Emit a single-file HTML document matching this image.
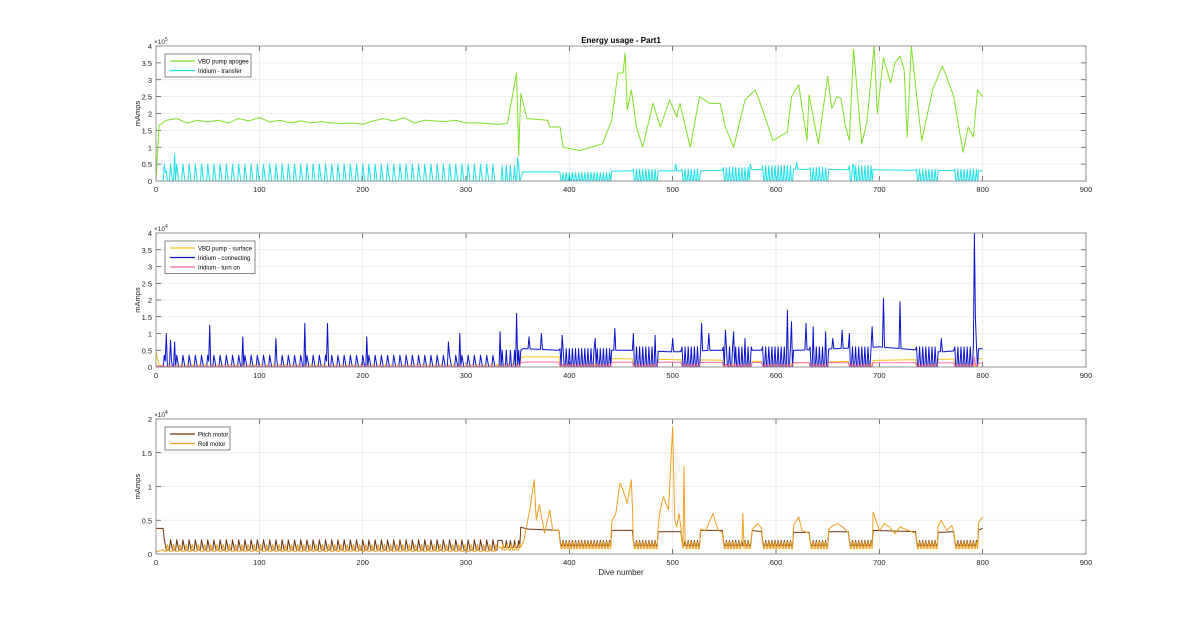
<!DOCTYPE html>
<html><head><meta charset="utf-8">
<style>
html,body{margin:0;padding:0;background:#fff;}
svg{display:block;font-family:"Liberation Sans",sans-serif;}
</style></head>
<body>
<svg id="chart" width="1200" height="622" viewBox="0 0 1200 622" xmlns="http://www.w3.org/2000/svg">
<rect width="1200" height="622" fill="#fff"/>
<text x="621" y="43" font-size="8" font-weight="bold" text-anchor="middle" fill="#000">Energy usage - Part1</text>
<text x="621" y="575" font-size="8" text-anchor="middle" fill="#262626">Dive number</text>
<g id="panels"></g>
</svg>
<script>
// ---- shared dive-type blocks (oscillating segments) ----
const blockStart = [8, 335, 391, 462, 509, 549, 587, 633, 671, 736, 773];
const blockEnd   = [330, 352, 440, 485, 526, 576, 616, 650, 693, 756, 795];
const blockPeriod= [6, 4, 3, 3, 3, 3, 3, 3, 3, 3, 3];
const xTicks = [0,100,200,300,400,500,600,700,800,900];

// ---- top: VBD pump apogee (x1e5) ----
const greenD = [0,3,10,20,30,40,50,60,70,80,90,100,110,120,130,140,150,160,170,180,190,200,210,220,230,240,250,260,270,280,290,300,313,330,340,349,351,353,359,379,381,391,394,410,432,441,447,452,454,456,460,465,471,481,488,497,504,507,517,526,536,546,551,559,570,580,586,597,611,615,622,630,632,641,650,654,659,663,667,671,675,683,688,695,698,704,711,715,720,724,727,731,734,741,752,761,765,772,781,786,791,795,800];
const greenV = [0,1.65,1.8,1.85,1.72,1.8,1.75,1.8,1.72,1.85,1.78,1.88,1.75,1.8,1.72,1.78,1.72,1.76,1.72,1.7,1.72,1.68,1.78,1.85,1.78,1.88,1.72,1.8,1.78,1.76,1.8,1.72,1.72,1.68,1.7,3.2,0.75,2.6,1.85,1.8,1.6,1.6,1.0,0.9,1.1,1.8,3.2,3.2,3.8,2.1,2.7,1.6,1.0,2.3,1.6,2.4,1.9,2.3,1.0,2.5,2.3,2.3,1.6,1.0,2.4,2.7,2.2,1.2,1.45,2.5,2.85,1.2,2.55,1.1,3.1,2.15,2.5,2.45,1.65,1.2,3.9,1.1,1.75,4.0,2.0,3.65,2.9,3.5,3.7,3.3,1.3,4.0,3.1,1.2,2.75,3.4,3.1,2.5,0.85,1.6,1.3,2.7,2.5];
// ---- top: Iridium transfer ----
const cyanLevelD = [0,352,355,390,460,520,600,700,800];
const cyanLevelV = [0,0,0.27,0.27,0.3,0.3,0.35,0.33,0.3];
const cyanHi = [0.5,0.45,0.25,0.35,0.35,0.4,0.45,0.4,0.45,0.35,0.35];
const cyanLo = [0,0,0,0,0,0,0,0,0,0,0];
const cyanSpikeD = [10,18,350,503,575,620,675];
const cyanSpikeV = [0.3,0.8,0.7,0.5,0.5,0.55,0.5];

// ---- middle (x1e4) ----
const blueLevelD = [0,335,355,390,440,462,500,540,580,620,660,700,760,800];
const blueLevelV = [0,0,0.55,0.5,0.5,0.5,0.45,0.5,0.5,0.5,0.55,0.6,0.45,0.55];
const blueHi = [0.35,0.5,0.55,0.6,0.6,0.6,0.6,0.6,0.6,0.6,0.6];
const blueLo = [0,0,0,0,0,0,0,0,0,0,0];
const blueSpikeD = [10,14,18,52,84,116,144,166,204,283,294,333,349,361,373,393,425,444,462,483,500,528,535,551,559,570,611,615,629,636,648,655,664,671,693,704,720,760,792,793];
const blueSpikeV = [1.0,0.8,0.75,1.25,0.9,0.85,1.3,1.3,0.9,0.75,1.0,1.05,1.6,0.9,1.0,0.95,0.85,1.15,1.0,0.95,0.85,1.3,1.0,1.1,1.05,0.85,1.7,1.35,1.3,1.2,1.05,0.85,1.1,1.0,1.2,2.05,1.95,0.85,4.0,1.5];
const yellowLevelD = [0,3,335,355,390,440,500,560,620,700,800];
const yellowLevelV = [0.45,0.05,0.05,0.3,0.3,0.25,0.22,0.2,0.12,0.2,0.25];
const yellowHi = [0.08,0.1,0.1,0.1,0.1,0.1,0.1,0.1,0.1,0.1,0.1];
const yellowLo = [0.02,0.02,0.02,0.02,0.02,0.02,0.02,0.02,0.02,0.02,0.02];
const pinkLevelD = [0,335,355,800];
const pinkLevelV = [0.03,0.03,0.15,0.12];
const pinkHi = [0.05,0.06,0.08,0.08,0.08,0.08,0.08,0.08,0.08,0.08,0.08];
const pinkLo = [0.01,0.01,0.02,0.02,0.02,0.02,0.02,0.02,0.02,0.02,0.02];
const pinkSpikeD = [792];
const pinkSpikeV = [0.3];

// ---- bottom (x1e4) ----
const pitchLevelD = [0,7,335,345,352,360,390,440,462,485,509,526,549,576,587,616,633,650,671,693,736,756,773,795,800];
const pitchLevelV = [0.38,0.38,0.2,0.28,0.4,0.37,0.35,0.35,0.35,0.33,0.33,0.35,0.35,0.35,0.33,0.32,0.32,0.33,0.33,0.35,0.33,0.32,0.33,0.35,0.38];
const pitchHi = [0.21,0.2,0.2,0.2,0.2,0.2,0.2,0.2,0.2,0.2,0.2];
const pitchLo = [0.06,0.1,0.12,0.12,0.12,0.12,0.12,0.12,0.12,0.12,0.12];
const rollLevelD = [0,10,335,345,350,352,353,356,362,366,368,371,376,381,384,390,440,445,449,452,456,460,462,485,488,491,496,500,502,504,506,508,526,532,539,544,550,576,582,590,600,616,622,625,633,650,655,660,666,671,693,694,700,705,710,715,720,736,756,760,765,770,773,795,800];
const rollLevelV = [0.03,0.08,0.1,0.25,0.05,1.84,0.1,0.2,0.68,1.1,0.5,0.73,0.31,0.65,0.35,0.35,0.45,0.6,1.05,0.95,0.75,1.1,0.3,0.3,0.65,0.85,0.65,1.88,0.5,0.4,0.6,0.4,0.37,0.35,0.6,0.35,0.3,0.35,0.45,0.32,0.38,0.4,0.55,0.35,0.3,0.35,0.42,0.45,0.38,0.3,0.4,0.62,0.35,0.45,0.4,0.3,0.4,0.3,0.4,0.5,0.35,0.42,0.3,0.45,0.55];
const rollHi = [0.14,0.15,0.18,0.18,0.18,0.18,0.18,0.18,0.18,0.18,0.18];
const rollLo = [0.04,0.06,0.08,0.08,0.08,0.08,0.08,0.08,0.08,0.08,0.08];
const rollSpikeD = [511,568];
const rollSpikeV = [1.3,0.6];

const NS = "http://www.w3.org/2000/svg";
const X0 = 156, X1 = 1086;
const xs = d => X0 + d * (X1 - X0) / 900;
function mk(tag, attrs, parent){ const e=document.createElementNS(NS,tag); for(const k in attrs) e.setAttribute(k,attrs[k]); parent.appendChild(e); return e; }
function interp(D,V,d){ if(d<=D[0]) return V[0]; for(let i=1;i<D.length;i++){ if(d<=D[i]){ const t=(d-D[i-1])/(D[i]-D[i-1]||1); return V[i-1]+t*(V[i]-V[i-1]); } } return V[V.length-1]; }
function series(levD, levV, hi, lo, spD, spV, useBlocks, phase){
  const out=[]; const ph = phase||0;
  for(let d=0; d<=800; d++){
    let v = interp(levD, levV, d);
    if(useBlocks){
      for(let b=0;b<blockStart.length;b++){
        if(d>=blockStart[b] && d<=blockEnd[b]){
          const k=(d-blockStart[b]+ph)%blockPeriod[b];
          v = (k===0) ? hi[b] : (k===1 && blockPeriod[b]>4 ? (hi[b]+lo[b])/2 : lo[b]);
        }
      }
    }
    if(spD){ const i=spD.indexOf(d); if(i>=0) v=spV[i]; }
    out.push(v);
  }
  return out;
}
const root = document.getElementById('panels');
function panel(name, top, bot, ymax, exp, lines, legend, legW){
  const g = mk('g',{},root);
  
  
  const ys = v => bot - v*(bot-top)/ymax;
  mk('rect',{x:X0,y:top,width:X1-X0,height:bot-top,fill:'#fff'},g);
  const yTicks=[]; for(let v=0; v<=ymax+1e-9; v+=0.5) yTicks.push(v);
  yTicks.forEach(v=>{
    const gl = mk('line',{x1:X0,x2:X1,y1:ys(v),y2:ys(v),stroke:'#e8e8e8','stroke-width':0.8},g);
    
    
    mk('line',{x1:X0,x2:X0+5,y1:ys(v),y2:ys(v),stroke:'#444','stroke-width':0.7},g);
    mk('line',{x1:X1-5,x2:X1,y1:ys(v),y2:ys(v),stroke:'#444','stroke-width':0.7},g);
    const t = mk('text',{x:X0-4,y:ys(v)+3,'font-size':7.5,'text-anchor':'end',fill:'#262626'},g);
    
    
    t.textContent = String(v);
  });
  xTicks.forEach(d=>{
    const gl = mk('line',{x1:xs(d),x2:xs(d),y1:top,y2:bot,stroke:'#e8e8e8','stroke-width':0.8},g);
    
    
    mk('line',{x1:xs(d),x2:xs(d),y1:bot,y2:bot-5,stroke:'#444','stroke-width':0.7},g);
    mk('line',{x1:xs(d),x2:xs(d),y1:top,y2:top+5,stroke:'#444','stroke-width':0.7},g);
    const t = mk('text',{x:xs(d),y:bot+11,'font-size':7.5,'text-anchor':'middle',fill:'#262626'},g);
    
    
    t.textContent = String(d);
  });
  lines.forEach(L=>{
    const pts = L.vals.map((v,d)=>xs(d).toFixed(1)+','+ys(v).toFixed(1)).join(' ');
    const p = mk('polyline',{points:pts,fill:'none',stroke:L.color,'stroke-width':1,'stroke-linejoin':'round'},g);
    
    
  });
  const box = mk('rect',{x:X0,y:top,width:X1-X0,height:bot-top,fill:'none',stroke:'#8c8c8c','stroke-width':0.9},g);
  
  
  const ex = mk('text',{x:X0-2,y:top-2,'font-size':6.5,fill:'#262626'},g);
  
  
  ex.innerHTML = '\u00d710<tspan dy="-3" font-size="5">'+exp+'</tspan>';
  const yl = mk('text',{x:0,y:0,'font-size':7.5,'text-anchor':'middle',fill:'#262626',transform:'translate(140,'+((top+bot)/2)+') rotate(-90)'},g);
  
  
  yl.textContent='mAmps';
  const lg = mk('g',{},g);
  
  
  const lh = 4 + legend.length*9.5;
  mk('rect',{x:165,y:top+8,width:legW,height:lh,fill:'#fff',stroke:'#555','stroke-width':0.7},lg);
  legend.forEach((e,i)=>{
    const yy = top+8+7+i*9.5;
    const en = mk('g',{},lg);
    
    
    mk('line',{x1:170,x2:195,y1:yy,y2:yy,stroke:e.color,'stroke-width':1.2},en);
    const t = mk('text',{x:198,y:yy+2.5,'font-size':6,fill:'#000'},en);
    t.textContent = e.label;
  });
}
const gVals = series(greenD, greenV, null, null, null, null, false);
const cVals = series(cyanLevelD, cyanLevelV, cyanHi, cyanLo, cyanSpikeD, cyanSpikeV, true);
panel('panel-apogee', 46, 181, 4, 5, [
  {name:'vbd-pump-apogee-line', color:'#7fe02a', vals:gVals},
  {name:'iridium-transfer-line', color:'#1fe0e8', vals:cVals}
], [{label:'VBD pump apogee',color:'#7fe02a'},{label:'Iridium - transfer',color:'#1fe0e8'}], 86);

const yVals = series(yellowLevelD, yellowLevelV, yellowHi, yellowLo, null, null, true, 2);
const bVals = series(blueLevelD, blueLevelV, blueHi, blueLo, blueSpikeD, blueSpikeV, true);
const pVals = series(pinkLevelD, pinkLevelV, pinkHi, pinkLo, pinkSpikeD, pinkSpikeV, true, 1);
panel('panel-surface', 233, 367, 4, 4, [
  {name:'vbd-pump-surface-line', color:'#f2c313', vals:yVals},
  {name:'iridium-connecting-line', color:'#0a14c8', vals:bVals},
  {name:'iridium-turn-on-line', color:'#f06aa8', vals:pVals}
], [{label:'VBD pump - surface',color:'#f2c313'},{label:'Iridium - connecting',color:'#0a14c8'},{label:'Iridium - turn on',color:'#f06aa8'}], 90);

const ptVals = series(pitchLevelD, pitchLevelV, pitchHi, pitchLo, null, null, true);
const rVals = series(rollLevelD, rollLevelV, rollHi, rollLo, rollSpikeD, rollSpikeV, true, 3);
panel('panel-motors', 419, 554, 2, 4, [
  {name:'pitch-motor-line', color:'#6b3410', vals:ptVals},
  {name:'roll-motor-line', color:'#f0a020', vals:rVals}
], [{label:'Pitch motor',color:'#6b3410'},{label:'Roll motor',color:'#f0a020'}], 65);
</script>
</body></html>
